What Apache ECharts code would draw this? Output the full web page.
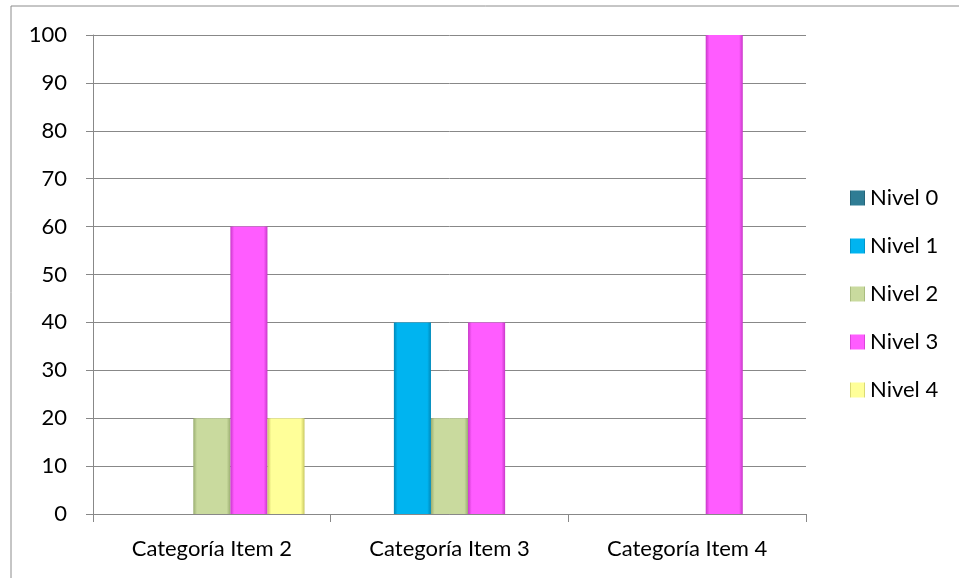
<!DOCTYPE html>
<html>
<head>
<meta charset="utf-8">
<script src="https://cdn.jsdelivr.net/npm/echarts@6/dist/echarts.min.js"></script>
<style>
html,body{margin:0;padding:0;background:#fff;}
#chart{width:959px;height:578px;}
</style>
</head>
<body>
<div id="chart"></div>
<script>
const categories = ['Categoría Item 2', 'Categoría Item 3', 'Categoría Item 4'];
const seriesNames = ['Nivel 0', 'Nivel 1', 'Nivel 2', 'Nivel 3', 'Nivel 4'];
const nivel0 = [0, 0, 0];
const nivel1 = [0, 40, 0];
const nivel2 = [20, 20, 0];
const nivel3 = [60, 40, 100];
const nivel4 = [20, 0, 0];
const yTicks = [0, 10, 20, 30, 40, 50, 60, 70, 80, 90, 100];

const seriesValues = [nivel0, nivel1, nivel2, nivel3, nivel4];
const baseColors = ['#2F7C94', '#00B4F0', '#C9DA9E', '#FF5CFF', '#FFFF99'];
const edgeColors = ['#215A6C', '#0088B8', '#9AAE70', '#C838C8', '#C8C860'];

function grad(i) {
  return new echarts.graphic.LinearGradient(0, 0, 1, 0, [
    {offset: 0, color: edgeColors[i]},
    {offset: 0.1, color: baseColors[i]},
    {offset: 0.9, color: baseColors[i]},
    {offset: 1, color: edgeColors[i]}
  ]);
}

const FONT = 'Lato';
const FS = 22;
const chart = echarts.init(document.getElementById('chart'), null, {renderer: 'canvas'});
chart.setOption({
  animation: false,
  backgroundColor: '#fff',
  textStyle: {fontFamily: FONT},
  graphic: [{
    type: 'rect',
    shape: {x: 11, y: 6, width: 960, height: 600},
    style: {fill: 'none', stroke: '#8c8c8c', lineWidth: 1}
  }],
  grid: {left: 93, right: 153, top: 35, bottom: 64, containLabel: false},
  legend: {
    orient: 'vertical',
    left: 845,
    top: 182,
    itemWidth: 15,
    itemHeight: 15,
    itemGap: 26,
    icon: 'rect',
    data: seriesNames,
    textStyle: {fontFamily: FONT, fontSize: FS, color: '#000'}
  },
  xAxis: {
    type: 'category',
    data: categories,
    axisLine: {show: true, lineStyle: {color: '#888', width: 1}},
    axisTick: {show: true, length: 8, lineStyle: {color: '#888'}},
    axisLabel: {fontFamily: FONT, fontSize: FS, color: '#000', margin: 24}
  },
  yAxis: {
    type: 'value',
    min: yTicks[0],
    max: yTicks[yTicks.length - 1],
    interval: 10,
    axisLine: {show: true, lineStyle: {color: '#888', width: 1}},
    axisTick: {show: true, length: 7, lineStyle: {color: '#888'}},
    splitLine: {show: true, lineStyle: {color: '#888', width: 1}},
    axisLabel: {fontFamily: FONT, fontSize: FS, color: '#000', margin: 26}
  },
  series: seriesNames.map((name, i) => ({
    name: name,
    type: 'bar',
    data: seriesValues[i],
    barGap: '0%',
    barCategoryGap: '22%',
    itemStyle: {color: grad(i), borderWidth: 0}
  }))
});
</script>
</body>
</html>
